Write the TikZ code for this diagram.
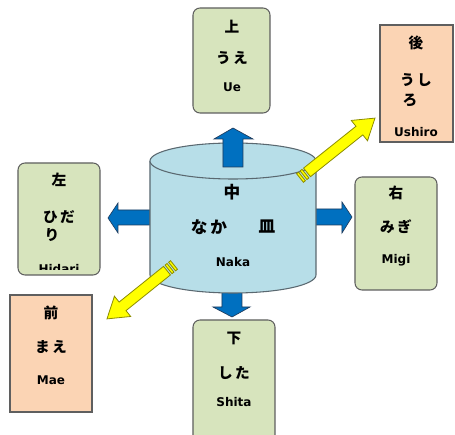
\documentclass[tikz,border=0pt]{standalone}
\usepackage{fontspec}
\newfontfamily\jp{Noto Sans CJK JP}
\newfontfamily\lat{DejaVu Sans}
\newlength\pxu \setlength\pxu{0.75pt}
\definecolor{gfill}{HTML}{D7E4BD}
\definecolor{pfill}{HTML}{FBD4B4}
\definecolor{bline}{HTML}{5F5F5F}
\definecolor{cyl}{HTML}{B7DEE8}
\definecolor{cylline}{HTML}{5A6870}
\definecolor{blu}{HTML}{0070C0}
\definecolor{bluline}{HTML}{1F3B5C}
\definecolor{yel}{HTML}{FFFF00}
\definecolor{yelline}{HTML}{8C8C00}
\tikzset{
  gbox/.style={draw=bline, line width=0.8pt, fill=gfill, rounded corners=7\pxu, inner sep=0pt},
  pbox/.style={draw=bline, line width=0.8pt, fill=pfill, inner sep=0pt},
  jtxt/.style={font=\jp\bfseries\fontsize{11}{13}\selectfont, inner sep=0pt},
  jbig/.style={font=\jp\bfseries\fontsize{12.5}{14}\selectfont, inner sep=0pt},
  ltxt/.style={font=\lat\bfseries\fontsize{9}{11}\selectfont, inner sep=0pt},
  barrow/.style={fill=blu, draw=bluline, line width=0.5pt, line join=miter},
  yarr/.style={fill=yel, draw=yelline, line width=0.6pt, line join=miter},
}
\newcommand{\yelarrow}[5]{%
  \begin{scope}[shift={(#1,#2)}, rotate=#3]
    \draw[yarr] (0,-5.5) rectangle (2.5,5.5);
    \draw[yarr] (4.5,-5.5) rectangle (7,5.5);
    \draw[yarr] (9,-5.5) -- (#4-20,-5.5) -- (#4-20,-13) -- (#4,0) -- (#4-20,13) -- (#4-20,5.5) -- (9,5.5) -- cycle;
    \coordinate (#5) at (#4,0);
  \end{scope}}
\begin{document}
\begin{tikzpicture}[x=0.75pt,y=0.75pt]
\useasboundingbox (0,0) rectangle (455,-435);
\fill[white] (0,0) rectangle (455,-435);

% boxes
\node[gbox, minimum width=77\pxu, minimum height=105\pxu] (ue) at (231.5,-60.5) {};
\node[pbox, minimum width=73\pxu, minimum height=117\pxu] (ushiro) at (416.5,-83.5) {};
\node[gbox, minimum width=82\pxu, minimum height=112\pxu] (hidari) at (59,-219) {};
\node[gbox, minimum width=82\pxu, minimum height=113\pxu] (migi) at (396,-233.5) {};
\node[pbox, minimum width=82\pxu, minimum height=117\pxu] (mae) at (51,-353.5) {};
\node[gbox, minimum width=82\pxu, minimum height=125\pxu] (shita) at (234,-382.5) {};

% box texts
\node[jtxt] (ue1) at (232,-27) {上};
\node[jtxt] (ue2) at (232,-58) {う\,え};
\node[ltxt] (ue3) at (232,-87) {Ue};

\node[jtxt] (us1) at (416,-43) {後};
\node[jtxt] (us2) at (416,-80) {う\,し};
\node[jtxt] (us3) at (410,-100) {ろ};
\node[ltxt] (us4) at (416,-132) {Ushiro};

\node[jtxt] (hi1) at (59,-180) {左};
\node[jtxt] (hi2) at (59,-217) {ひ\,だ};
\node[jtxt] (hi3) at (52,-235) {り};
\begin{scope}
  \clip (20,-250) rectangle (98,-269.5);
  \node[ltxt, anchor=base] (hi4) at (59,-274) {Hidari};
\end{scope}

\node[jtxt] (mi1) at (396,-193) {右};
\node[jtxt] (mi2) at (396,-227) {み\,ぎ};
\node[ltxt] (mi3) at (396,-260) {Migi};

\node[jtxt] (ma1) at (51,-313) {前};
\node[jtxt] (ma2) at (51,-347) {ま\,え};
\node[ltxt] (ma3) at (51,-380) {Mae};

\node[jtxt] (sh1) at (234,-338) {下};
\node[jtxt] (sh2) at (234,-373) {し\,た};
\node[ltxt] (sh3) at (234,-402) {Shita};

% blue arrows behind cylinder
\draw[barrow] (150,-210) -- (118,-210) -- (118,-203) -- (108,-218) -- (118,-233) -- (118,-225) -- (150,-225) -- cycle;
\draw[barrow] (315,-209) -- (342,-209) -- (342,-202) -- (352,-217) -- (342,-233) -- (342,-225) -- (315,-225) -- cycle;
\draw[barrow] (222,-290) -- (222,-307) -- (213,-307) -- (232,-317) -- (250,-307) -- (242,-307) -- (242,-290) -- cycle;

% cylinder
\draw[fill=cyl, draw=cylline, line width=0.8pt] (150,-161) -- (150,-275) arc[start angle=180, end angle=360, x radius=83, y radius=18] -- (316,-161);
\draw[fill=cyl, draw=cylline, line width=0.8pt] (233,-161) ellipse[x radius=83, y radius=18];
\coordinate (naka) at (233,-218);

% up arrow
\draw[barrow] (223,-167) -- (223,-139) -- (214,-139) -- (233,-128) -- (253,-139) -- (243,-139) -- (243,-167) -- cycle;

% cylinder texts
\node[jbig] (na1) at (232,-192) {中};
\node[jbig] (na2) at (209,-227) {な\,か};
\node[jbig] (na3) at (267,-227) {皿};
\node[ltxt] (na4) at (233,-262) {Naka};

% yellow arrows
\yelarrow{300}{-178}{38.6}{96}{ytip1}
\yelarrow{174}{-265}{218.8}{86}{ytip2}
\end{tikzpicture}
\end{document}
